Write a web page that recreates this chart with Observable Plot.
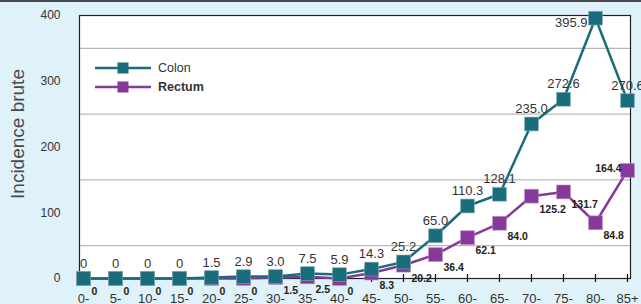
<!DOCTYPE html>
<html>
<head>
<meta charset="utf-8">
<script src="https://cdn.jsdelivr.net/npm/d3@7"></script>
<script src="https://cdn.jsdelivr.net/npm/@observablehq/plot@0.6"></script>
<style>
  html, body { margin: 0; padding: 0; background: #dff1f9; }
  #wrap { position: relative; width: 641px; height: 304px; overflow: hidden; font-family: "Liberation Sans", Arial, sans-serif; }
  #topbar { position: absolute; left: 0; top: 0; width: 641px; height: 2px; background: #4a4a4a; }
  #legend { position: absolute; left: 95px; top: 58px; font-size: 12.5px; color: #333; }
  .lg { display: flex; align-items: center; height: 19px; }
  .lg svg { margin-right: 6px; }
</style>
</head>
<body>
<div id="wrap">
  <div id="chart"></div>
  <div id="topbar"></div>
  <div id="legend"></div>
</div>
<script>
const ageGroups = ["0-","5-","10-","15-","20-","25-","30-","35-","40-","45-","50-","55-","60-","65-","70-","75-","80-","85+"];
const colon  = [0,0,0,0,1.5,2.9,3.0,7.5,5.9,14.3,25.2,65.0,110.3,128.1,235.0,272.6,395.9,270.6];
const rectum = [0,0,0,0,0,0,1.5,2.5,0,8.3,20.2,36.4,62.1,84.0,125.2,131.7,84.8,164.4];
const yTicks = [0,100,200,300,400];
const gridValues = [50,150,250,350];
const seriesNames = ["Colon","Rectum"];
const colors = {Colon: "#196c79", Rectum: "#86389b"};

const fmt = v => v === 0 ? "0" : v.toFixed(1);
const colonData = ageGroups.map((a, i) => ({age: a, v: colon[i], i}));
const rectumData = ageGroups.map((a, i) => ({age: a, v: rectum[i], i}));
const colonMax = d3.max(colon);
const lastIdx = ageGroups.length - 1;

const chart = Plot.plot({
  width: 641,
  height: 304,
  marginLeft: 79,
  marginRight: 11,
  marginTop: 15,
  marginBottom: 26,
  style: {background: "transparent", fontFamily: "Liberation Sans, Arial, sans-serif"},
  x: {type: "point", domain: ageGroups, padding: 0},
  y: {domain: [0, 400]},
  marks: [
    Plot.frame({fill: "white"}),
    Plot.ruleY(gridValues, {stroke: "#b8b8b8", strokeWidth: 1.3}),
    Plot.frame({stroke: "#222", strokeWidth: 1.2}),
    Plot.ruleX(ageGroups, {x: d => d, y1: 0, y2: 0, insetTop: -4, insetBottom: -4, stroke: "#111", strokeWidth: 1.2}),
    Plot.axisY(yTicks, {tickSize: 0, tickPadding: 19, fontSize: 12, color: "#333", label: null}),
    Plot.axisX({tickSize: 0, tickPadding: 15, fontSize: 13, color: "#333", label: null}),
    Plot.text(["Incidence brute"], {frameAnchor: "left", textAnchor: "middle", rotate: -90, dx: -62, dy: -13, fontSize: 19, fill: "#4a4a4a"}),
    // Rectum
    Plot.line(rectumData, {x: "age", y: "v", stroke: colors.Rectum, strokeWidth: 2.5}),
    Plot.dot(rectumData, {x: "age", y: "v", symbol: "square", r: 7.8, fill: colors.Rectum, stroke: "#b58cc4", strokeWidth: 0.6}),
    // Colon
    Plot.line(colonData, {x: "age", y: "v", stroke: colors.Colon, strokeWidth: 2.5}),
    Plot.dot(colonData, {x: "age", y: "v", symbol: "square", r: 7.8, fill: colors.Colon, stroke: "#7fb0b8", strokeWidth: 0.6}),
    // Rectum labels
    Plot.text(rectumData.filter(d => d.i !== lastIdx), {x: "age", y: "v", text: d => fmt(d.v), textAnchor: "start", dx: 8, dy: 13, fontSize: 10.5, fontWeight: "bold", fill: "#222"}),
    Plot.text(rectumData.filter(d => d.i === lastIdx), {x: "age", y: "v", text: d => fmt(d.v), textAnchor: "end", dx: -6, dy: -2, fontSize: 10.5, fontWeight: "bold", fill: "#222"}),
    // Colon labels
    Plot.text(colonData.filter(d => d.v !== colonMax), {x: "age", y: "v", text: d => fmt(d.v), dy: -15, fontSize: 13, fill: "#333"}),
    Plot.text(colonData.filter(d => d.v === colonMax), {x: "age", y: "v", text: d => fmt(d.v), textAnchor: "end", dx: -8, dy: 5, fontSize: 13, fill: "#333"})
  ]
});
document.getElementById("chart").appendChild(chart);

// Legend
const legend = document.getElementById("legend");
seriesNames.forEach((name, k) => {
  const row = document.createElement("div");
  row.className = "lg";
  const c = colors[name];
  row.innerHTML = `<svg width="57" height="14"><line x1="0" y1="7" x2="56" y2="7" stroke="${c}" stroke-width="2.5"/><rect x="22.5" y="1.5" width="11" height="11" fill="${c}"/></svg><span style="font-weight:${k === 1 ? "bold" : "normal"}">${name}</span>`;
  legend.appendChild(row);
});
</script>
</body>
</html>
